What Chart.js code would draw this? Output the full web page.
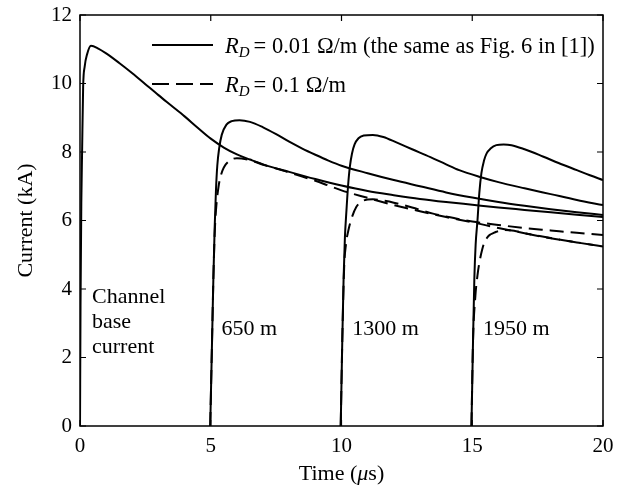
<!DOCTYPE html>
<html><head><meta charset="utf-8">
<script src="https://cdn.jsdelivr.net/npm/chart.js@4.4.0/dist/chart.umd.min.js"></script>
<style>html,body{margin:0;padding:0;background:#fff}#wrap{width:620px;height:487px}</style>
</head><body><div id="wrap"><canvas id="c" width="620" height="487"></canvas></div>
<script>
// Time in microseconds, current in kA
const baseT = [0, 0.02, 0.05, 0.08, 0.12, 0.18, 0.27, 0.42, 0.7, 1.0, 1.5, 2.0, 2.5, 3.0, 3.5, 4.0, 4.5, 5.0, 5.5, 6.0, 6.5, 7.0, 8.0, 9.0, 10.0, 11.0, 12.0, 13.0, 14.0, 15.0, 16.0, 17.0, 18.0, 19.0, 20.0];
const baseI = [0, 3.5, 6.5, 8.0, 9.9, 10.5, 10.85, 11.1, 11.02, 10.88, 10.6, 10.3, 9.98, 9.66, 9.35, 9.04, 8.71, 8.39, 8.13, 7.93, 7.78, 7.64, 7.42, 7.21, 7.02, 6.86, 6.74, 6.63, 6.54, 6.46, 6.38, 6.31, 6.24, 6.17, 6.1];

const s650T = [4.98, 5.05, 5.1, 5.15, 5.2, 5.25, 5.32, 5.42, 5.6, 5.8, 6.1, 6.5, 7.0, 7.5, 8.0, 8.5, 9.0, 9.5, 10, 11, 12, 13, 14, 15, 16, 17, 18, 19, 20];
const s650I = [0, 2.5, 4.3, 5.8, 6.9, 7.6, 8.1, 8.5, 8.8, 8.9, 8.93, 8.88, 8.72, 8.52, 8.3, 8.1, 7.92, 7.75, 7.6, 7.38, 7.18, 7.0, 6.82, 6.67, 6.54, 6.43, 6.33, 6.24, 6.16];

const s1300T = [9.97, 10.03, 10.08, 10.13, 10.19, 10.25, 10.32, 10.4, 10.5, 10.65, 10.85, 11.2, 11.6, 12.1, 12.7, 13.4, 14.0, 14.5, 15.3, 16, 17, 18, 19, 20];
const s1300I = [0, 2.5, 4.3, 5.5, 6.3, 7.0, 7.57, 7.95, 8.22, 8.4, 8.48, 8.5, 8.44, 8.28, 8.08, 7.85, 7.64, 7.47, 7.27, 7.12, 6.94, 6.77, 6.6, 6.45];

const s1950T = [14.97, 15.03, 15.08, 15.13, 15.2, 15.27, 15.35, 15.45, 15.55, 15.7, 15.92, 16.2, 16.5, 17.0, 17.7, 18.3, 19.0, 19.5, 20];
const s1950I = [0, 2.5, 4.3, 5.3, 6.0, 6.8, 7.38, 7.75, 7.96, 8.1, 8.2, 8.22, 8.2, 8.08, 7.87, 7.68, 7.47, 7.32, 7.18];

const d650T = [4.98, 5.05, 5.1, 5.15, 5.2, 5.3, 5.4, 5.5, 5.75, 6.0, 6.5, 7.0, 7.5, 8.0, 8.5, 9.0, 9.5, 10, 11, 12, 13, 14, 15, 16, 17, 18, 19, 20];
const d650I = [0, 2.5, 4.3, 5.6, 6.3, 7.0, 7.35, 7.55, 7.76, 7.82, 7.76, 7.63, 7.52, 7.4, 7.28, 7.16, 7.02, 6.88, 6.66, 6.45, 6.27, 6.1, 5.95, 5.78, 5.63, 5.49, 5.36, 5.24];

const d1300T = [9.97, 10.03, 10.1, 10.17, 10.26, 10.38, 10.57, 10.83, 11.2, 11.6, 12.0, 12.7, 13.5, 14.3, 15.0, 16, 17, 18, 19, 20];
const d1300I = [0, 2.5, 4.6, 5.3, 5.7, 6.05, 6.4, 6.58, 6.62, 6.58, 6.52, 6.38, 6.2, 6.07, 5.97, 5.87, 5.78, 5.71, 5.64, 5.58];

const d1950T = [14.97, 15.03, 15.12, 15.2, 15.28, 15.38, 15.47, 15.57, 15.67, 15.8, 15.92, 16.2, 16.6, 17, 18, 19, 20];
const d1950I = [0, 2.5, 3.8, 4.4, 4.8, 5.15, 5.38, 5.5, 5.58, 5.63, 5.67, 5.72, 5.7, 5.63, 5.48, 5.36, 5.24];

const xTicks = [0, 5, 10, 15, 20];
const yTicks = [0, 2, 4, 6, 8, 10, 12];

const legendLabels = ["= 0.01 \u03A9/m (the same as Fig. 6 in [1])", "= 0.1 \u03A9/m"];
const curveLabels = ["650 m", "1300 m", "1950 m"];
const curveLabelT = [5.3, 10.3, 15.3];
const baseLabel = ["Channel", "base", "current"];

const FONT = '"Liberation Serif", "Times New Roman", serif';
function pts(t, v) { return t.map((x, i) => ({x: x, y: v[i]})); }
function ds(t, v, dashed) {
  return {data: pts(t, v), showLine: true, borderColor: '#000', borderWidth: 2,
    borderDash: dashed ? [14, 7] : [], pointRadius: 0, cubicInterpolationMode: 'monotone', fill: false};
}

const framePlugin = {
  id: 'frame',
  afterDatasetsDraw(chart) {
    const ctx = chart.ctx, a = chart.chartArea, xs = chart.scales.x, ys = chart.scales.y;
    ctx.save();
    ctx.strokeStyle = '#000'; ctx.lineWidth = 1.5;
    ctx.strokeRect(a.left, a.top, a.right - a.left, a.bottom - a.top);
    ctx.lineWidth = 1.2;
    const L = 6;
    ctx.beginPath();
    xTicks.forEach(v => { const p = xs.getPixelForValue(v);
      ctx.moveTo(p, a.bottom); ctx.lineTo(p, a.bottom - L);
      ctx.moveTo(p, a.top); ctx.lineTo(p, a.top + L); });
    yTicks.forEach(v => { const p = ys.getPixelForValue(v);
      ctx.moveTo(a.left, p); ctx.lineTo(a.left + L, p);
      ctx.moveTo(a.right, p); ctx.lineTo(a.right - L, p); });
    ctx.stroke();

    // legend
    const lx0 = 152, lx1 = 213, tx = 225;
    const rows = [45, 84];
    rows.forEach((y, i) => {
      ctx.beginPath(); ctx.lineWidth = 2;
      ctx.setLineDash(i === 0 ? [] : [17, 7]);
      ctx.moveTo(lx0, y); ctx.lineTo(lx1, y); ctx.stroke();
      ctx.setLineDash([]);
      const by = y + 8;
      ctx.fillStyle = '#000'; ctx.textBaseline = 'alphabetic'; ctx.textAlign = 'left';
      ctx.font = 'italic 22.5px ' + FONT;
      ctx.fillText('R', tx, by);
      let x = tx + ctx.measureText('R').width;
      ctx.font = 'italic 15px ' + FONT;
      ctx.fillText('D', x, by + 4);
      x += ctx.measureText('D').width + 4;
      ctx.font = '22.5px ' + FONT;
      ctx.fillText(legendLabels[i], x, by);
    });

    // annotations
    ctx.font = '22px ' + FONT;
    ctx.fillStyle = '#000';
    baseLabel.forEach((s, i) => ctx.fillText(s, 92, 303 + i * 25));
    curveLabels.forEach((s, i) => ctx.fillText(s, xs.getPixelForValue(curveLabelT[i]) + 3, 335));

    // x axis title with italic mu
    const parts = [['Time (', ''], ['\u03BC', 'italic '], ['s)', '']];
    let w = 0;
    parts.forEach(p => { ctx.font = p[1] + '22px ' + FONT; w += ctx.measureText(p[0]).width; });
    let x = (a.left + a.right) / 2 - w / 2;
    ctx.textBaseline = 'middle';
    parts.forEach(p => { ctx.font = p[1] + '22px ' + FONT; ctx.fillText(p[0], x, 474); x += ctx.measureText(p[0]).width; });
    ctx.restore();
  }
};

new Chart(document.getElementById('c'), {
  type: 'scatter',
  data: {datasets: [
    ds(baseT, baseI, false), ds(s650T, s650I, false), ds(s1300T, s1300I, false), ds(s1950T, s1950I, false),
    ds(d650T, d650I, true), ds(d1300T, d1300I, true), ds(d1950T, d1950I, true)
  ]},
  options: {
    responsive: false, animation: false, devicePixelRatio: 1,
    layout: {padding: {top: 15, right: 17, left: 0, bottom: 0}},
    plugins: {legend: {display: false}, tooltip: {enabled: false}},
    scales: {
      x: {type: 'linear', min: 0, max: 20,
        afterFit(s) { s.height = 61; s.paddingLeft = 0; s.paddingRight = 0; },
        afterBuildTicks(s) { s.ticks = xTicks.map(v => ({value: v})); },
        grid: {display: false, drawTicks: false}, border: {display: false},
        ticks: {color: '#000', font: {family: FONT, size: 21}, padding: 8, maxRotation: 0},
        title: {display: false}},
      y: {type: 'linear', min: 0, max: 12,
        afterFit(s) { s.width = 80; s.paddingTop = 0; s.paddingBottom = 0; },
        afterBuildTicks(s) { s.ticks = yTicks.map(v => ({value: v})); },
        grid: {display: false, drawTicks: false}, border: {display: false},
        ticks: {color: '#000', font: {family: FONT, size: 21}, padding: 8},
        title: {display: true, text: 'Current (kA)', color: '#000', font: {family: FONT, size: 22}, padding: {top: 13, bottom: 0}}}
    }
  },
  plugins: [framePlugin]
});
</script></body></html>
